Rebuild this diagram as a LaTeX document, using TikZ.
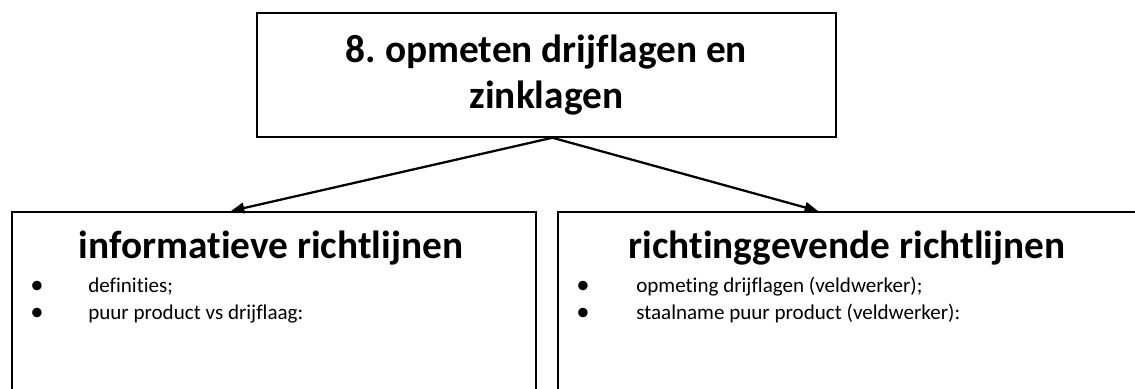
\documentclass[tikz,border=0pt]{standalone}
\usepackage{fontspec}
\setmainfont{Carlito}[Ligatures=NoCommon]
\usetikzlibrary{arrows.meta,calc,positioning}
\frenchspacing
\tikzset{
  box/.style={draw, line width=1.3pt, inner sep=0pt},
  head/.style={font=\bfseries\fontsize{29.5}{34.5}\selectfont, inner sep=0pt, align=center},
  item/.style={font=\fontsize{15.8}{19}\selectfont, anchor=base west, inner sep=0pt},
  dot/.style={font=\fontsize{20}{24}\selectfont, anchor=base, inner sep=0pt},
  link/.style={line width=1.7pt, -{Triangle[length=10pt,width=8pt]}},
}
\begin{document}
\begin{tikzpicture}[x=0.75pt,y=-0.75pt]
\useasboundingbox (0,0) rectangle (1135,389);
\clip (0,0) rectangle (1135,389);
%----------------------------------------------------------
	% Boxes
	%------------------------------------------------------
	\node[box, minimum width=434.25pt, minimum height=93pt, anchor=north west] (Top) at (256,12) {};
	\node[box, minimum width=393pt, minimum height=156.75pt, anchor=north west] (Info) at (11,211) {};
	\node[box, minimum width=435pt, minimum height=156.75pt, anchor=north west] (Guide) at (557,211) {};

	% Titles
	%------------------------------------------------------
	\node[head] (TopTitle) at (Top.center) {8. opmeten drijflagen en\\zinklagen};
	\node[head, anchor=base] (InfoTitle) at (271,258) {informatieve richtlijnen};
	\node[head, anchor=base] (GuideTitle) at (847,258) {richtinggevende richtlijnen};

	% Bullets
	%------------------------------------------------------
	\node[dot] (InfoDotA) at (37,293) {•};
	\node[dot] (InfoDotB) at (37,320) {•};
	\node[item] (InfoA) at (88,292) {definities;};
	\node[item] (InfoB) at (88,319) {puur product vs drijflaag:};

	\node[dot] (GuideDotA) at (583,293) {•};
	\node[dot] (GuideDotB) at (583,320) {•};
	\node[item] (GuideA) at (636,292) {opmeting drijflagen (veldwerker);};
	\node[item] (GuideB) at (636,319) {staalname puur product (veldwerker):};

	% Arrows
	%------------------------------------------------------
	\draw[link] ($(Top.south)+(6,0)$) -- ($(Info.north west)+(220,0)$);
	\draw[link] ($(Top.south)+(6,0)$) -- ($(Guide.north west)+(261,0)$);
\end{tikzpicture}
\end{document}
